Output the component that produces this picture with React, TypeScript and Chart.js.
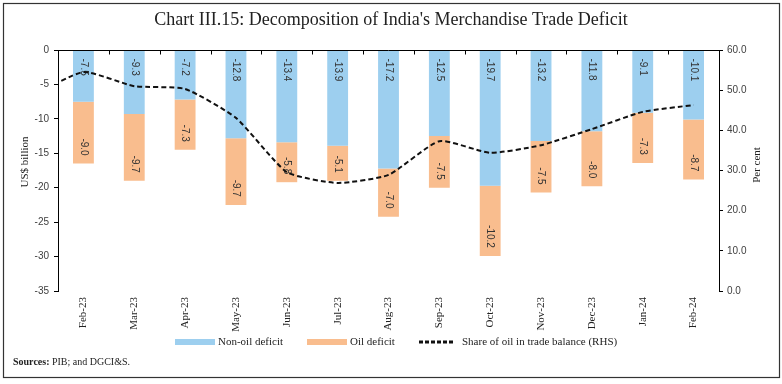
import React, { useEffect, useRef } from "react";
import { Chart, registerables } from "chart.js";

Chart.register(...registerables);

const categories = [
  "Feb-23", "Mar-23", "Apr-23", "May-23", "Jun-23", "Jul-23", "Aug-23",
  "Sep-23", "Oct-23", "Nov-23", "Dec-23", "Jan-24", "Feb-24",
];
const nonOilDeficit = [-7.5, -9.3, -7.2, -12.8, -13.4, -13.9, -17.2, -12.5, -19.7, -13.2, -11.8, -9.1, -10.1];
const oilDeficit = [-9.0, -9.7, -7.3, -9.7, -5.8, -5.1, -7.0, -7.5, -10.2, -7.5, -8.0, -7.3, -8.7];
const oilShare = [54.5, 51.0, 50.3, 43.1, 29.6, 26.9, 28.9, 37.3, 34.4, 36.3, 40.3, 44.6, 46.3];
// Jan-23: outside the plotted range; only its segment entering the plot at the left edge is visible
const prevCategory = "Jan-23";
const oilSharePrevMonth = 48.7;

const leftAxisMin = -35;
const leftAxisMax = 0;
const leftAxisStep = 5;
const rightAxisMin = 0;
const rightAxisMax = 60;
const rightAxisStep = 10;

const titleText = "Chart III.15: Decomposition of India's Merchandise Trade Deficit";
const leftAxisTitle = "US$ billion";
const rightAxisTitle = "Per cent";
const legendLabels = ["Non-oil deficit", "Oil deficit", "Share of oil in trade balance (RHS)"];
const sourcesLabel = "Sources:";
const sourcesText = " PIB; and DGCI&S.";

const BLUE = "#9DCFEF";
const ORANGE = "#F9BD8E";
const SERIF = "'Liberation Serif', 'DejaVu Serif', serif";
const SANS = "'Liberation Sans', 'DejaVu Sans', sans-serif";

const decorPlugin = {
  id: "decor",
  afterDatasetDraw(chart: any, args: any) {
    const idx = args.index;
    if (idx !== 0 && idx !== 1) return;
    const ctx = chart.ctx;
    const meta = chart.getDatasetMeta(idx);
    const values = idx === 0 ? nonOilDeficit : oilDeficit;
    ctx.save();
    ctx.font = `10px ${SANS}`;
    ctx.fillStyle = "#333";
    ctx.textBaseline = "middle";
    meta.data.forEach((el: any, i: number) => {
      if (i === 0) return; // leading out-of-range category has no bar
      const v = values[i - 1];
      const top = Math.min(el.base, el.y);
      const bottom = Math.max(el.base, el.y);
      ctx.save();
      if (idx === 0) {
        ctx.translate(el.x, top + 8);
        ctx.rotate(Math.PI / 2);
        ctx.textAlign = "left";
      } else {
        ctx.translate(el.x, bottom - 8);
        ctx.rotate(Math.PI / 2);
        ctx.textAlign = "right";
      }
      ctx.fillText(v.toFixed(1), 0, 0);
      ctx.restore();
    });
    ctx.restore();
  },
  afterDraw(chart: any) {
    const ctx = chart.ctx;
    const area = chart.chartArea;
    const yScale = chart.scales.y;
    ctx.save();

    // outer frame
    ctx.strokeStyle = "#333";
    ctx.lineWidth = 1.2;
    ctx.strokeRect(3.5, 3.5, 776, 374);

    // title
    ctx.fillStyle = "#222";
    ctx.font = `18px ${SERIF}`;
    ctx.textAlign = "center";
    ctx.textBaseline = "middle";
    ctx.fillText(titleText, 391, 20);

    // zero line with category ticks
    const y0 = Math.round(yScale.getPixelForValue(0)) + 0.5;
    ctx.strokeStyle = "#000";
    ctx.lineWidth = 1;
    ctx.beginPath();
    ctx.moveTo(area.left, y0);
    ctx.lineTo(area.right, y0);
    const n = categories.length;
    const w = (area.right - area.left) / n;
    for (let k = 0; k <= n; k++) {
      const x = Math.round(area.left + k * w) + 0.5;
      ctx.moveTo(x, y0);
      ctx.lineTo(x, y0 + 4);
    }
    ctx.stroke();

    // axis titles
    ctx.font = `11px ${SERIF}`;
    ctx.fillStyle = "#222";
    ctx.save();
    ctx.translate(25, 162);
    ctx.rotate(-Math.PI / 2);
    ctx.fillText(leftAxisTitle, 0, 0);
    ctx.restore();
    ctx.save();
    ctx.translate(757, 165);
    ctx.rotate(-Math.PI / 2);
    ctx.fillText(rightAxisTitle, 0, 0);
    ctx.restore();

    // legend
    const ly = 342;
    ctx.textAlign = "left";
    ctx.font = `11px ${SERIF}`;
    ctx.fillStyle = BLUE;
    ctx.fillRect(175, ly - 3, 40, 6);
    ctx.fillStyle = "#222";
    ctx.fillText(legendLabels[0], 218, ly);
    ctx.fillStyle = ORANGE;
    ctx.fillRect(307, ly - 3, 40, 6);
    ctx.fillStyle = "#222";
    ctx.fillText(legendLabels[1], 350, ly);
    ctx.strokeStyle = "#111";
    ctx.lineWidth = 3;
    ctx.setLineDash([4, 2]);
    ctx.beginPath();
    ctx.moveTo(419, ly);
    ctx.lineTo(455, ly);
    ctx.stroke();
    ctx.setLineDash([]);
    ctx.fillText(legendLabels[2], 462, ly);

    // sources
    ctx.font = `bold 10px ${SERIF}`;
    ctx.fillText(sourcesLabel, 13, 362);
    const sw = ctx.measureText(sourcesLabel).width;
    ctx.font = `10px ${SERIF}`;
    ctx.fillText(sourcesText, 13 + sw, 362);

    ctx.restore();
  },
};

export default function App() {
  const canvasRef = useRef<HTMLCanvasElement | null>(null);

  useEffect(() => {
    const canvas = canvasRef.current;
    if (!canvas) return;
    const labels = [prevCategory, ...categories];
    const chart = new Chart(canvas, {
      type: "bar",
      data: {
        labels,
        datasets: [
          {
            type: "bar",
            label: legendLabels[0],
            data: [null, ...nonOilDeficit],
            backgroundColor: BLUE,
            borderWidth: 0,
            yAxisID: "y",
            stack: "deficit",
            order: 1,
            categoryPercentage: 1,
            barPercentage: 0.41,
          } as any,
          {
            type: "bar",
            label: legendLabels[1],
            data: [null, ...oilDeficit],
            backgroundColor: ORANGE,
            borderWidth: 0,
            yAxisID: "y",
            stack: "deficit",
            order: 1,
            categoryPercentage: 1,
            barPercentage: 0.41,
          } as any,
          {
            type: "line",
            label: legendLabels[2],
            data: [oilSharePrevMonth, ...oilShare],
            borderColor: "#111",
            borderWidth: 2,
            borderDash: [5, 3],
            pointRadius: 0,
            tension: 0.18,
            fill: false,
            yAxisID: "y1",
            order: 0,
          } as any,
        ],
      },
      options: {
        responsive: false,
        animation: false,
        layout: { padding: { top: 50, left: 0, right: 0, bottom: 0 } },
        plugins: {
          legend: { display: false },
          title: { display: false },
          tooltip: { enabled: false },
        },
        scales: {
          x: {
            type: "category",
            min: categories[0],
            max: categories[categories.length - 1],
            stacked: true,
            offset: true,
            grid: { display: false, drawTicks: false },
            border: { display: false },
            ticks: {
              minRotation: 90,
              maxRotation: 90,
              autoSkip: false,
              padding: 6,
              color: "#222",
              font: { family: SERIF, size: 11 },
            },
            afterFit: (s: any) => {
              s.height = 93;
            },
          },
          y: {
            position: "left",
            stacked: true,
            min: leftAxisMin,
            max: leftAxisMax,
            grid: {
              display: true,
              drawOnChartArea: false,
              drawTicks: true,
              tickLength: 4,
              color: "#000",
            },
            border: { display: true, color: "#000", width: 1 },
            ticks: {
              stepSize: leftAxisStep,
              padding: 5,
              color: "#404040",
              font: { family: SANS, size: 10 },
            },
            afterFit: (s: any) => {
              s.width = 58;
            },
          },
          y1: {
            position: "right",
            stacked: false,
            min: rightAxisMin,
            max: rightAxisMax,
            grid: {
              display: true,
              drawOnChartArea: false,
              drawTicks: true,
              tickLength: 4,
              color: "#000",
            },
            border: { display: true, color: "#000", width: 1 },
            ticks: {
              stepSize: rightAxisStep,
              padding: 4,
              color: "#404040",
              font: { family: SANS, size: 10 },
              callback: (v: any) => Number(v).toFixed(1),
            },
            afterFit: (s: any) => {
              s.width = 63;
            },
          },
        },
      },
      plugins: [decorPlugin],
    } as any);
    return () => chart.destroy();
  }, []);

  return (
    <div style={{ position: "absolute", left: 0, top: 0, width: 782, height: 384, background: "#fff" }}>
      <canvas ref={canvasRef} width={782} height={384} style={{ display: "block", width: 782, height: 384 }} />
    </div>
  );
}
